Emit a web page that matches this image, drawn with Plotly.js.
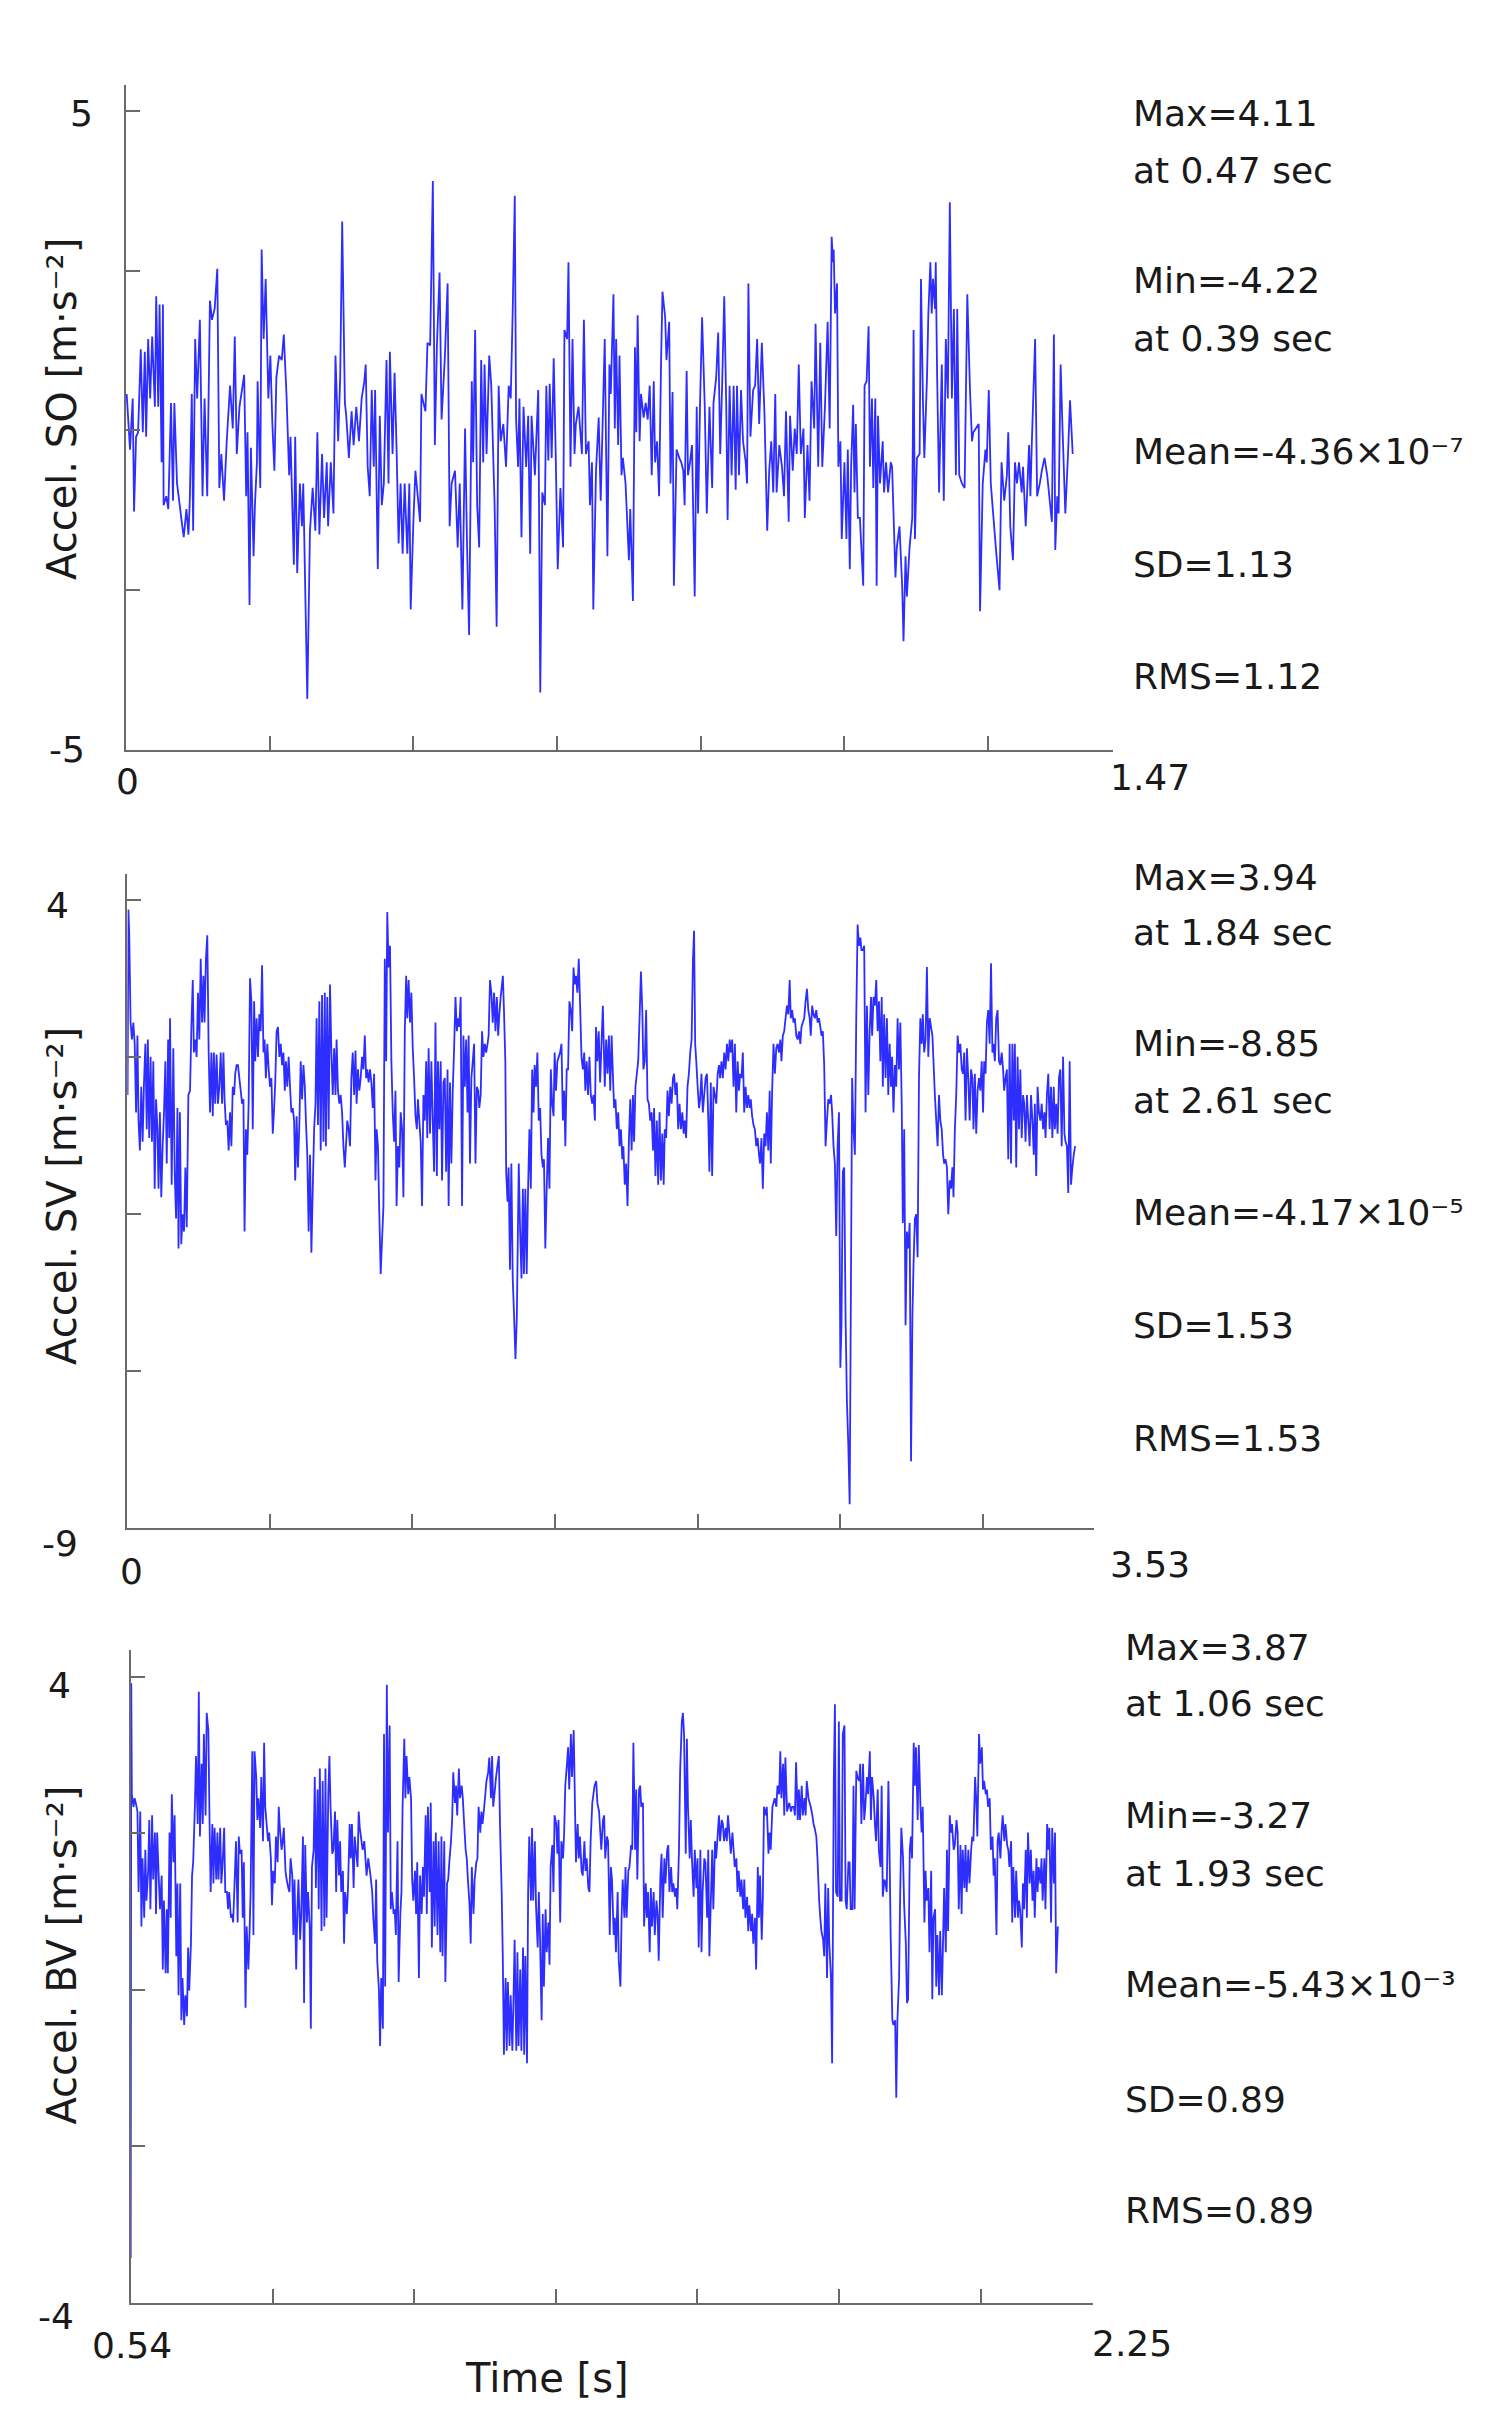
<!DOCTYPE html>
<html><head><meta charset="utf-8">
<script src="https://cdn.plot.ly/plotly-3.0.1.min.js"></script>
<style>html,body{margin:0;padding:0;background:#fff}#chart{width:1504px;height:2428px}</style>
</head><body><div id="chart"></div>
<script>
// ---------- Panel 1: Accel. SO (time in ms, acceleration in m/s^2) ----------
const soTime = [
1,6,10,12,15,18,22,25,28,30,
33,36,39,43,45,48,50,53,55,56,
60,63,67,70,72,76,80,83,86,90,
93,95,98,100,103,106,110,114,117,121,
125,128,132,136,139,142,146,150,155,159,
162,165,169,176,179,181,184,186,190,192,
195,196,200,202,205,208,212,215,218,221,
224,228,232,235,239,243,245,250,252,255,
259,262,264,270,274,278,282,285,288,292,
295,299,301,305,309,312,316,319,322,326,
328,332,336,339,343,347,351,355,357,360,
363,366,369,371,375,378,381,384,388,391,
393,397,400,403,406,409,412,415,419,422,
424,428,431,434,438,440,443,446,449,453,
457,460,463,467,470,475,479,482,485,490,
494,497,501,505,508,511,515,517,520,523,
526,529,532,534,537,541,544,549,552,555,
558,562,566,570,573,576,579,581,584,586,
589,592,596,599,602,604,609,614,617,620,
624,626,629,631,634,637,640,643,647,651,
653,657,659,662,665,668,670,674,679,682,
685,689,691,694,696,700,704,707,713,
717,720,722,726,728,730,733,735,738,740,
744,749,751,755,758,760,762,765,767,771,
774,777,780,783,786,788,791,794,797,799,
803,805,809,811,814,816,820,824,827,830,
832,835,837,840,843,847,850,852,855,858,
862,865,869,873,875,879,882,885,888,891,
894,896,899,902,905,908,910,913,916,919,
923,925,927,930,934,937,940,943,947,951,
955,958,961,964,967,969,973,977,980,983,
987,989,993,996,999,1002,1005,1009,1011,1015,
1018,1021,1025,1027,1031,1034,1037,1041,1045,1048,
1051,1053,1054,1056,1059,1061,1064,1066,1070,1073,
1075,1078,1080,1083,1085,1087,1090,1093,1098,1100,
1103,1106,1108,1111,1113,1116,1118,1120,1123,1127,
1129,1132,1135,1139,1141,1146,1148,1152,1156,1158,
1161,1163,1167,1171,1173,1175,1178,1182,1184,1187,
1189,1193,1195,1198,1200,1202,1205,1206,1208,1211,
1215,1218,1221,1224,1227,1230,1233,1236,1238,1241,
1245,1249,1253,1257,1260,1262,1270,1272,1276,1280,
1282,1285,1288,1292,1296,1301,1304,1308,1312,1314,
1317,1321,1324,1327,1330,1334,1336,1340,1345,1347,
1349,1354,1357,1361,1364,1368,1372,1377,1379,1382,
1384,1387,1389,1392,1395,1399,1403,1406,1410];
const soAccel = [
0.57,-0.30,0.50,-1.27,-0.10,-0.03,1.27,-0.03,1.23,-0.10,
1.43,0.50,1.47,0.37,2.10,0.37,1.97,-0.50,1.97,-1.17,
-1.03,-1.23,0.43,-1.10,0.43,-0.83,-1.17,-1.43,-1.67,-1.23,
-1.63,-1.10,0.57,-1.57,1.43,0.50,1.73,-1.03,0.50,-1.03,
2.03,1.73,1.90,2.53,-0.90,-0.37,-1.10,-0.17,0.70,0.03,
1.47,-0.37,0.37,0.87,-1.03,-0.03,-2.73,-0.27,-1.97,-1.17,
-0.50,0.77,-0.90,2.83,1.43,2.37,0.50,1.17,0.10,-0.63,
0.83,1.17,1.10,1.50,0.57,-0.70,-0.10,-2.10,-0.10,-2.23,
-0.83,-1.50,-0.83,-4.20,-1.57,-0.90,-1.57,-0.03,-1.63,-0.37,
-1.37,-0.50,-1.50,-0.50,-1.30,1.17,-0.17,0.83,3.27,0.43,
0.23,-0.43,0.30,-0.23,0.37,-0.17,0.50,0.77,1.03,-0.57,
-1.03,0.63,-0.57,0.63,-2.17,0.23,-1.17,-0.83,1.10,-0.83,
1.23,-0.37,0.90,-0.30,-1.77,-0.83,-1.93,-0.83,-1.93,-0.83,
-2.80,-1.43,-0.63,-0.97,-1.43,0.57,0.43,0.30,1.37,1.33,
3.90,-0.23,1.30,2.47,0.17,1.17,2.30,-1.50,-0.83,-0.63,
-1.83,-0.83,-2.80,0.03,-1.83,-3.20,0.77,-0.50,1.57,-1.17,
-1.83,1.10,-0.50,1.03,-0.37,1.17,0.70,-1.17,-3.07,0.70,
-0.17,0.10,-0.57,0.70,0.50,1.90,3.67,0.17,-0.57,0.50,
-1.67,0.37,-0.57,0.23,-1.93,0.23,-0.70,0.63,-4.10,-0.97,
-1.17,0.70,-0.47,0.73,-0.43,1.13,-0.37,-2.17,-0.90,-1.83,
1.57,1.43,2.63,-0.57,1.43,-0.37,0.10,0.37,-0.37,1.73,
-0.37,-0.17,-1.17,-0.50,-2.80,-0.63,0.20,-1.10,1.43,
-1.97,1.03,0.57,2.13,0.03,1.43,-0.23,1.17,-0.70,-0.43,
-0.83,-2.03,-1.23,-2.67,1.30,-0.03,1.80,-0.17,0.57,0.20,
0.43,0.17,0.70,-0.70,0.77,-0.50,-0.17,-1.03,1.13,2.17,
1.77,1.10,1.70,-0.83,0.60,-2.43,-0.30,-0.43,-0.50,-0.63,
-1.17,0.93,-0.70,-0.50,-0.23,-2.60,0.37,-1.30,0.43,1.77,
0.37,-1.30,0.37,-0.90,0.43,0.83,1.53,-0.37,0.77,2.10,
0.37,-1.40,0.70,-0.70,0.70,-0.93,0.70,-0.70,0.63,-0.17,
-0.50,-0.83,2.30,-0.10,0.63,0.70,1.43,0.10,1.37,0.23,
-1.57,-0.63,-0.17,-0.97,0.57,-0.97,-0.23,-0.57,-1.03,0.30,
-1.43,0.23,-0.63,0.03,-0.37,1.03,-0.37,0.03,-1.37,-0.23,
-1.10,0.77,0.03,1.67,-0.57,1.37,-0.57,0.37,1.70,0.03,
3.03,2.63,2.83,1.83,2.30,-0.57,-0.17,-1.70,-0.50,-1.70,
-0.30,-2.17,-0.57,0.40,-0.97,0.10,-1.37,-1.37,-2.43,0.70,
0.77,1.63,-0.57,0.50,-0.90,0.50,-2.43,0.23,-0.83,-0.17,
-0.97,-0.50,-0.97,-0.50,-0.57,-2.30,-1.83,-1.50,-2.43,-3.30,
-1.97,-2.60,-1.83,-1.37,1.57,-1.70,-0.43,-0.37,2.37,0.43,
-0.43,0.83,1.83,2.63,1.83,2.37,1.90,2.63,0.90,-0.97,
1.03,-1.10,1.43,0.50,3.57,0.50,1.90,-0.70,1.90,-0.70,
-0.83,-0.90,2.13,0.63,-0.17,-0.03,0.10,-2.83,-0.83,-0.30,
-0.50,0.63,-0.83,-1.37,-1.90,-2.50,-0.50,-1.10,-0.70,-0.03,
-1.50,-2.03,-0.50,-0.83,-0.50,-0.97,-0.57,-1.50,-0.23,-1.03,
-0.23,1.43,-1.03,-0.83,-0.63,-0.43,-0.70,-1.23,-1.43,1.50,
-1.87,-1.03,-1.30,1.03,-0.03,-1.30,-0.37,0.47,-0.37];

// ---------- Panel 2: Accel. SV ----------
const svTime = [
1,4,7,12,17,22,27,32,37,41,
46,51,56,61,66,71,75,80,85,90,
95,100,105,110,114,119,124,129,134,139,
144,149,153,156,162,168,173,178,183,187,
192,197,202,207,212,217,223,229,234,239,
243,248,253,258,263,268,273,278,282,287,
292,297,302,307,312,316,321,326,331,336,
341,346,351,355,360,365,370,375,380,385,
390,394,399,404,409,414,419,424,428,433,
438,443,448,453,458,463,467,472,477,482,
487,492,497,501,506,511,516,521,526,531,
536,540,545,550,555,560,565,570,575,579,
584,589,594,599,604,609,613,618,623,628,
633,638,643,648,652,657,662,667,672,677,
682,687,691,696,701,706,711,716,721,725,
730,735,740,745,750,755,760,764,769,774,
779,784,789,794,799,803,808,813,818,823,
828,833,837,842,847,852,857,862,867,872,
876,881,886,891,896,901,906,910,915,920,
925,930,935,940,945,949,954,959,964,969,
974,979,983,988,993,998,1003,1008,1013,1018,
1022,1027,1032,1037,1042,1047,1052,1057,1061,1066,
1071,1076,1081,1086,1091,1095,1100,1105,1110,1115,
1120,1125,1130,1134,1139,1144,1149,1154,1159,1164,
1169,1173,1178,1183,1188,1193,1198,1203,1208,1212,
1217,1222,1227,1232,1237,1242,1246,1251,1256,1261,
1266,1271,1276,1281,1285,1290,1295,1300,1305,1310,
1315,1319,1324,1329,1334,1339,1344,1349,1354,1358,
1363,1371,1375,1380,1383,1388,1392,1397,1402,1407,
1412,1417,1422,1429,1434,1439,1444,1448,1453,1458,
1463,1468,1473,1478,1483,1487,1492,1497,1502,1507,
1512,1517,1521,1526,1531,1536,1541,1546,1551,1556,
1560,1565,1570,1575,1580,1585,1590,1595,1599,1604,
1609,1614,1619,1624,1629,1633,1638,1643,1648,1653,
1658,1663,1668,1672,1677,1682,1687,1692,1697,1702,
1707,1711,1716,1721,1726,
1736,1743,1748,1753,1758,1763,1768,1772,1777,1782,
1787,1792,1797,1802,1807,1811,1816,1821,1826,1831,
1836,1841,1846,1850,1855,1860,1865,1870,1875,1880,
1884,1889,1894,1899,1904,1909,1914,1919,1923,1928,
1933,1938,1943,1948,1953,1958,1962,1967,1972,1977,
1982,1987,1992,1996,2001,2006,2011,2016,2021,2026,
2031,2035,2040,2045,2050,2055,2060,2065,2069,2073,
2077,2082,2087,2091,2096,2101,2106,2111,2116,2121,
2125,2130,2135,2140,2145,2150,2155,2160,2164,2169,
2174,2179,2184,2189,2194,2199,2203,2208,2213,2218,
2223,2228,2233,2237,2242,2247,2252,2257,2262,2267,
2272,2276,2281,2286,2291,2296,2301,2306,2310,2315,
2320,2325,2330,2335,2340,2345,2349,2354,2359,2364,
2369,2374,2379,2384,2388,2393,2398,2403,2408,2413,
2418,2422,2427,2432,2437,2442,2447,2452,2457,2461,
2466,2471,2476,2481,2486,2491,2495,2500,2505,2510,
2515,2520,2525,2530,2534,2539,2544,2549,2554,2559,
2564,2569,2573,2578,2583,2588,2593,2598,2603,2607,
2612,2617,2622,2627,2632,2637,2642,2646,2651,2656,
2661,2666,2671,2676,2680,2685,2690,2695,2700,2705,
2710,2715,2719,2724,2729,2734,2739,2744,2749,2754,
2758,2763,2768,2773,2778,2783,2788,2792,2797,2802,
2807,2812,2817,2822,2827,2831,2836,2841,2846,2851,
2856,2861,2866,2870,2875,2880,2885,2890,2895,2900,
2904,2909,2914,2919,2924,2929,2934,2939,2943,2948,
2953,2958,2963,2968,2973,2978,2982,2987,2992,2997,
3002,3007,3012,3016,3021,3026,3031,3036,3041,3046,
3051,3055,3060,3065,3070,3075,3080,3085,3089,3094,
3099,3104,3109,3114,3119,3124,3128,3133,3138,3143,
3148,3153,3158,3162,3167,3172,3177,3182,3187,3192,
3197,3201,3206,3211,3216,3221,3226,3231,3236,3240,
3245,3250,3255,3260,3265,3270,3274,3279,3284,3289,
3294,3299,3304,3309,3313,3318,3323,3328,3333,3338,
3343,3348,3352,3357,3362,3367,3372,3377,3382,3386,
3391,3396,3401,3406,3411,3416,3421,3425,3430,3435,
3440,3445,3450,3455,3460];
const svAccel = [
-0.04,3.80,3.31,1.46,1.11,1.46,1.02,-0.40,1.19,-0.57,
-1.19,0.13,-1.01,0.22,1.02,-0.75,1.11,-0.93,0.75,-1.01,
0.66,-1.98,-0.13,-0.75,-1.98,-0.40,-2.16,-1.10,-0.40,0.66,
-1.46,1.11,-0.93,1.55,-1.90,0.93,-1.63,-2.60,-0.31,-3.22,
-0.40,-3.13,-2.51,-2.87,-1.54,-2.78,-0.04,0.05,1.37,2.34,
0.84,1.11,0.75,2.08,1.11,2.78,1.46,2.43,1.46,2.78,
3.27,0.84,-0.40,0.84,-0.48,0.84,-0.22,0.80,-0.22,0.13,
0.84,-0.22,0.84,-0.13,-0.66,-0.57,-1.19,-0.40,-1.10,0.13,
-0.04,0.40,0.58,0.58,0.31,0.05,-0.22,-0.13,-2.87,-0.75,
-1.28,-0.22,2.38,1.90,-0.75,1.90,0.66,1.55,0.75,1.63,
1.28,2.65,0.84,1.11,0.31,1.02,0.49,0.13,0.31,-0.84,
-0.31,0.22,1.28,1.37,0.75,1.02,0.58,0.84,0.05,0.66,
0.13,0.75,0.13,-0.40,-0.31,-0.57,-1.81,-0.48,-1.54,-0.66,
0.66,-0.13,0.58,0.13,-0.57,-1.28,-2.87,-1.28,-3.31,-1.98,
-0.75,-0.22,1.55,-0.66,1.90,-1.19,2.03,-1.01,2.08,-1.10,
1.99,-0.75,2.25,0.84,-0.04,0.93,-0.04,1.11,0.05,-0.22,
-0.04,-0.40,-1.10,-1.54,-1.01,-0.57,-0.75,-1.10,0.31,0.84,
-0.04,0.88,-0.22,0.49,0.05,0.31,0.75,0.49,1.19,0.31,
0.49,0.22,0.49,0.22,-0.31,0.40,-1.81,-0.75,-1.10,-2.51,
-3.75,-3.04,-2.34,2.78,0.66,3.75,2.60,3.05,0.66,-0.40,
-1.01,0.05,-2.34,-1.10,-1.54,-0.40,-0.75,-2.16,1.28,2.43,
1.55,2.34,1.46,2.08,0.93,0.31,-0.48,-0.75,-0.13,-0.57,
-1.01,-2.34,-0.04,-0.57,0.66,-0.93,0.93,-0.84,0.66,-0.57,
-1.63,1.46,-1.72,0.66,-0.75,0.66,-1.81,0.22,0.31,-1.63,
0.49,-2.34,0.22,-1.46,0.05,0.93,1.99,1.28,1.55,1.37,
1.99,-2.34,1.19,0.13,1.11,-0.40,1.19,-1.46,0.31,0.66,
1.02,-1.46,0.13,0.05,-0.31,-0.04,1.28,0.75,1.02,0.84,
1.02,1.19,2.34,2.08,1.46,2.08,1.28,1.99,1.19,1.63,
1.99,2.43,1.72,0.66,-1.63,-2.25,-1.54,-3.66,-1.46,-3.84,
-4.63,-5.51,-4.63,-1.46,-2.87,-3.84,-1.98,-3.75,-1.98,-3.75,
-1.98,-0.75,-1.98,0.49,-0.40,0.58,0.13,0.84,-0.57,-0.31,
-1.28,-1.54,-1.37,-3.22,-1.98,-0.93,-1.98,0.49,-0.22,-0.48,
0.84,0.05,0.66,0.75,0.84,1.02,-0.57,0.05,-1.10,0.49,
0.49,1.90,1.72,1.28,2.60,2.25,2.43,2.08,2.78,1.81,
0.75,0.49,0.84,0.05,0.66,-0.04,0.75,-0.04,-0.22,-0.04,
-0.57,1.37,0.66,1.28,0.22,
1.81,0.13,1.11,0.40,1.19,0.05,1.19,0.49,-0.31,-0.13,
-0.75,-0.40,-1.10,-0.75,-1.37,-1.10,-1.90,-1.46,-2.34,-1.01,
-0.13,-1.19,-0.04,-1.01,0.13,0.40,0.66,1.55,2.52,1.72,
0.49,0.66,1.72,-0.13,-0.22,-0.57,-0.40,-1.19,-0.31,-1.72,
-0.57,-1.90,-0.40,-1.81,-0.84,-1.90,-0.75,-0.93,0.05,-0.48,
0.13,-0.22,0.31,0.40,-0.04,0.22,-0.75,-0.22,-0.75,-0.40,
-0.84,-0.57,-0.93,0.13,0.40,0.84,1.11,2.78,3.36,1.02,
0.66,0.13,-0.31,-0.13,0.40,-0.40,-0.04,0.31,0.40,-0.57,
-1.63,0.22,-1.72,0.13,-0.04,-0.22,0.40,0.58,0.31,0.66,
0.31,0.84,0.49,1.02,0.66,1.11,0.84,1.11,0.13,1.02,
-0.40,0.66,0.05,0.40,0.31,0.84,-0.40,0.13,-0.31,-0.04,
-0.31,-0.13,-0.48,-0.66,-0.75,-1.10,-0.93,-1.28,-1.46,-0.93,
-1.98,-0.84,-1.10,-0.40,-1.19,0.05,-1.46,0.05,1.02,0.40,
0.93,1.02,0.84,1.11,0.66,1.19,1.28,1.55,1.81,1.63,
2.34,1.55,1.72,1.46,1.55,1.19,1.11,1.28,1.02,1.37,
1.46,1.55,1.90,2.16,1.72,1.55,1.19,1.81,1.63,1.55,
1.72,1.46,1.55,1.37,1.19,1.28,0.58,-1.10,-0.57,-0.13,
-0.22,-0.04,-0.40,-1.10,-1.46,-2.96,-1.10,-0.40,-5.69,-4.81,
-1.63,-1.54,-4.63,-6.40,-7.28,-8.52,-3.57,0.31,-0.75,-1.28,
1.55,3.49,3.05,3.22,2.96,2.96,3.05,-0.40,1.81,-0.04,
1.28,1.99,1.19,1.99,1.81,2.34,1.28,1.90,0.66,1.99,
0.13,1.63,0.31,1.55,-0.04,1.02,0.13,0.75,-0.40,0.58,
0.13,1.55,0.49,1.46,-0.22,-2.69,-0.75,-4.81,-2.87,-3.22,
-2.69,-7.63,-4.63,-3.57,-2.60,-2.51,-3.40,0.31,1.55,1.02,
1.63,0.84,1.11,2.61,0.75,1.55,1.37,1.19,0.66,-0.04,
-0.57,-1.10,-0.04,-0.57,-0.75,-1.28,-1.46,-1.37,-1.54,-2.51,
-1.81,-1.98,-1.54,-2.16,-0.75,-0.04,1.19,0.84,1.02,0.49,
0.40,0.84,-0.57,0.93,0.31,-0.57,0.49,0.31,-0.75,0.40,
-0.84,0.05,0.31,0.05,0.66,-0.40,0.66,0.40,1.46,1.72,
1.02,2.69,0.84,1.02,0.66,1.55,1.72,0.66,0.58,0.84,
0.49,0.05,0.31,0.49,-1.37,1.02,-1.46,1.02,-0.57,1.02,
-1.54,0.75,-0.75,0.49,-0.93,-0.04,-0.22,-1.01,-0.04,-0.57,
-1.10,-0.04,-0.57,-1.28,-0.22,-1.72,0.13,-0.40,-0.57,-0.22,
-0.75,-0.40,-0.93,-0.04,0.40,-0.75,0.13,-0.93,0.13,-0.75,
-0.22,-0.84,0.31,0.49,-1.10,0.75,-0.84,-1.01,-1.10,-2.07,
0.66,-1.90,-1.54,-1.28,-1.10];

// ---------- Panel 3: Accel. BV ----------
const bvTime = [
540,541,
542,545,547,549,552,554,557,559,561,
564,566,568,571,573,575,578,580,583,585,
587,590,592,595,597,599,602,604,606,609,
611,613,616,618,621,623,625,628,630,632,
635,637,640,642,644,647,649,651,654,656,
659,661,663,666,668,670,673,675,678,680,
682,685,687,689,692,694,696,699,701,703,
706,708,711,713,715,718,720,722,725,727,
730,732,734,737,739,741,744,746,749,751,
753,756,758,760,763,765,767,770,772,775,
777,779,782,784,786,789,791,793,796,798,
801,803,805,808,810,812,815,817,820,822,
824,827,829,831,834,836,838,841,843,846,
848,850,853,855,858,860,862,865,867,869,
872,874,876,879,881,884,886,888,891,893,
895,898,900,903,905,907,910,912,914,917,
919,921,924,926,929,931,933,936,938,940,
943,945,947,950,952,955,957,959,962,964,
966,969,971,974,976,978,981,983,985,988,
990,992,995,997,1000,1002,1004,1007,1009,1011,
1014,1016,1019,1021,1023,1026,1028,1030,1033,1035,
1038,1040,1042,1045,1047,1049,1052,1054,1057,1059,
1061,1064,1066,1068,1071,1073,1075,1078,1080,1082,
1085,1087,1090,1092,1094,1097,1099,1102,1104,1106,
1109,1111,1113,1116,1118,1120,1123,1125,1128,1130,
1132,1135,1137,1139,1142,1144,1146,1149,1151,1154,
1156,1158,1161,1163,1165,1168,1170,1172,1175,1177,
1180,1182,1184,1187,1189,1191,1194,1196,1199,1201,
1203,1206,1208,1210,1213,1215,1218,1220,1222,1225,
1227,1229,1232,1234,1237,1239,1241,1244,1246,1248,
1251,1253,1255,1258,1260,1263,1265,1267,1270,1272,
1274,1277,1279,1282,1284,1286,1289,1291,1293,1296,
1298,1300,1303,1305,1308,1310,1312,1315,1317,1319,
1322,1324,1327,1329,1331,1334,1336,1338,1341,1343,
1346,1348,1350,1353,1355,1357,1360,1362,1364,1367,
1369,1372,
1376,1379,1381,1383,1386,1388,1391,1393,1395,
1398,1400,1402,1405,1407,1410,1412,1414,1417,1419,
1421,1424,1426,1429,1431,1433,1436,1438,1440,1443,
1445,1447,1450,1452,1455,1457,1459,1462,1464,1466,
1469,1471,1474,1476,1478,1481,1483,1485,1488,1490,
1493,1495,1497,1500,1502,1504,1507,1509,1511,1514,
1516,1519,1521,1523,1526,1528,1530,1533,1535,1537,
1540,1542,1545,1547,1549,1552,1554,1556,1559,1561,
1564,1566,1568,1571,1573,1575,1578,1580,1583,1585,
1587,1590,1592,1594,1597,1599,1601,1604,1606,1609,
1611,1613,1616,1618,1620,1623,1625,1628,1630,1632,
1635,1637,1639,1642,1644,1646,1649,1651,1654,1656,
1658,1661,1663,1665,1668,1670,1673,1675,1677,1680,
1682,1684,1687,1689,1692,1694,1696,1699,1701,1703,
1706,1708,1710,1713,1715,1718,1720,1722,1725,1727,
1729,1732,1734,1737,1739,1741,1744,1746,1748,1751,
1753,1755,1758,1760,1763,1765,1767,1770,1772,1774,
1777,1779,1781,1784,1786,1789,1791,1793,1796,1798,
1800,1803,1805,1808,1810,1812,1815,1817,1819,1822,
1824,1826,1829,1831,1834,1836,1838,1841,1843,1845,
1848,1850,1853,1855,1857,1860,1862,1864,1867,1869,
1872,1874,1876,1879,1881,1883,1886,1888,1890,1893,
1895,1898,1900,1902,1905,1907,1909,1912,1914,1917,
1919,1921,1924,1926,1928,1931,1933,1935,1938,1940,
1943,1945,1947,1950,1952,1954,1957,1959,1962,1964,
1966,1969,1971,1973,1976,1978,1981,1983,1985,1988,
1990,1992,1995,1997,1999,2002,2004,2007,2009,2011,
2014,2016,2018,2021,2023,2025,2028,2030,2033,2035,
2037,2040,2042,2044,2047,2049,2052,2054,2056,2059,
2061,2063,2066,2068,2071,2073,2075,2078,2080,2082,
2085,2087,2089,2092,2094,2097,2099,2101,2104,2106,
2108,2111,2113,2116,2118,2120,2123,2125,2127,2130,
2132,2134,2137,2139,2142,2144,2146,2149,2151,2153,
2156,2158,2160,2163,2165,2168,2170,2172,2175,2177,
2180,2182,2184,2187];
const bvAccel = [
-3.43,3.92,
2.50,2.34,2.45,2.39,2.28,1.25,2.28,0.81,1.68,
0.92,1.79,1.14,1.52,2.17,1.03,2.23,1.41,2.01,0.97,
2.01,1.41,1.03,1.46,0.26,1.14,0.21,1.03,0.21,2.01,
0.92,2.50,1.63,2.23,0.43,1.36,-0.07,1.36,-0.39,0.15,
-0.45,-0.07,-0.34,0.54,-0.01,0.59,1.46,1.63,2.34,2.99,
2.12,3.81,1.96,2.89,2.12,3.27,2.23,3.54,3.32,2.17,
1.25,2.12,1.36,2.07,1.41,2.01,1.41,2.07,1.36,1.57,
2.07,1.25,1.25,1.03,1.25,0.92,0.97,0.86,1.46,1.90,
0.86,1.96,1.74,1.79,0.92,1.63,-0.23,0.81,0.26,0.70,
1.25,3.05,0.70,3.05,2.72,2.17,2.45,2.07,2.72,1.90,
3.16,2.34,2.07,1.90,2.01,1.68,1.08,1.52,1.36,1.96,
1.63,2.34,2.07,1.79,1.90,2.07,1.52,1.41,1.30,1.25,
1.68,1.46,0.70,1.41,0.26,1.03,1.41,0.64,0.97,1.96,
-0.17,1.85,0.86,1.25,0.81,-0.50,1.57,1.79,2.72,1.30,
2.56,1.03,2.83,0.75,2.67,0.81,2.83,0.92,2.50,2.99,
2.34,1.74,1.79,2.28,1.25,2.17,1.46,1.90,1.25,1.52,
0.59,1.25,0.97,1.30,2.12,1.68,2.12,1.30,1.96,1.79,
1.57,2.28,2.07,1.90,1.79,1.90,1.68,1.46,1.68,1.57,
1.46,1.25,0.92,0.59,1.41,0.37,-0.01,-0.72,0.15,-0.50,
3.27,0.04,3.90,2.01,3.38,1.03,1.25,0.97,1.03,0.70,
1.90,0.10,0.97,1.25,2.34,3.21,2.45,2.99,2.50,2.72,
2.45,1.41,1.14,1.52,0.97,1.63,0.15,1.46,0.97,1.57,
1.19,2.23,0.97,2.34,1.25,2.39,0.54,1.90,0.81,2.01,
0.70,1.90,0.48,1.96,0.43,1.90,0.10,1.36,1.41,1.63,
1.90,2.17,2.78,2.39,2.61,2.23,2.83,2.45,2.61,2.45,
2.17,1.79,1.68,1.41,1.08,0.59,1.57,0.97,1.41,1.63,
1.68,2.34,2.01,2.28,2.12,2.34,2.50,2.67,2.78,2.97,
2.45,2.99,2.34,2.56,2.72,2.83,2.99,2.12,1.25,0.43,
-0.83,0.15,-0.78,0.10,-0.72,-0.07,-0.78,-0.12,0.64,-0.78,
0.48,-0.72,0.26,-0.78,0.54,-0.83,0.43,-0.94,1.25,1.96,
1.14,2.07,1.14,1.90,1.08,0.54,1.25,0.70,-0.39,0.97,
0.04,1.03,0.48,0.86,0.32,1.57,1.85,1.25,2.23,2.12,
1.74,2.17,0.86,1.90,1.68,2.01,2.61,2.89,3.10,2.56,
3.27,2.72,3.32,2.45,1.63,2.12,1.68,1.96,1.52,1.46,
1.90,1.52,1.68,1.30,1.25,1.90,2.39,2.50,2.61,2.67,
2.39,2.28,
1.79,2.17,2.23,1.68,1.96,1.90,0.70,1.57,1.41,
0.70,0.92,0.48,1.25,0.37,0.04,0.92,1.41,0.92,1.57,
0.92,1.52,1.57,1.85,1.79,3.16,1.79,2.56,1.41,2.56,
2.61,2.34,2.39,0.81,1.36,0.92,1.25,0.48,1.30,0.81,
1.25,0.70,1.14,0.97,0.37,1.46,1.74,0.92,1.68,1.36,
1.79,1.85,1.25,1.57,1.25,1.36,1.19,1.30,1.03,1.79,
2.78,3.43,3.54,3.27,1.74,3.21,2.34,1.68,2.17,1.68,
1.19,1.79,1.30,1.68,0.54,1.79,0.48,1.25,1.68,1.63,
0.92,1.79,0.43,1.25,1.79,1.03,1.90,1.68,2.01,2.23,
1.90,2.17,2.12,1.90,2.07,1.90,2.23,1.96,1.74,2.01,
1.79,1.57,1.68,1.25,1.52,1.19,1.41,1.03,1.41,0.92,
1.19,0.75,1.08,0.75,0.97,0.59,0.92,0.26,1.57,0.92,
1.46,0.64,1.19,2.34,2.23,2.34,1.74,2.01,1.79,2.34,
2.39,2.45,2.34,2.61,2.50,3.05,2.45,2.89,2.23,2.97,
2.28,2.34,2.39,2.28,2.34,2.34,2.23,2.91,2.17,2.56,
2.17,2.61,2.23,2.45,2.23,2.67,2.45,2.39,2.34,2.23,
2.12,2.07,1.96,1.68,1.14,0.92,0.75,0.64,0.43,1.36,
0.15,1.30,0.59,0.15,-0.94,2.67,3.65,1.25,1.19,3.43,
1.14,1.14,3.27,3.38,1.14,1.03,1.63,1.63,1.03,1.03,
2.61,1.03,2.80,2.72,2.67,2.89,2.12,2.89,2.17,2.34,
2.72,2.50,3.05,2.17,2.72,2.45,2.12,1.90,2.56,1.79,
1.57,2.61,1.19,1.41,1.36,1.25,2.67,1.79,0.70,-0.39,
-0.45,-0.39,-1.38,-0.39,0.15,1.25,2.07,1.68,1.08,0.59,
-0.17,-0.12,1.79,1.96,1.68,3.16,2.61,3.10,2.17,3.13,
2.34,2.01,2.34,0.86,1.52,1.14,1.30,0.48,1.52,-0.12,
0.92,1.03,0.04,0.70,-0.07,0.75,-0.07,0.59,1.30,0.48,
1.79,0.75,2.23,2.01,2.12,1.79,1.85,2.17,2.01,1.03,
1.85,0.97,1.79,1.30,1.85,1.25,1.79,1.36,1.79,1.96,
1.90,2.72,2.45,1.96,3.27,2.89,3.10,2.56,2.67,2.50,
2.56,2.34,2.45,1.79,1.96,1.46,1.68,0.70,1.90,2.01,
1.68,2.01,2.23,1.90,2.12,1.85,1.79,1.57,1.90,0.86,
1.57,0.92,1.52,0.92,1.14,1.03,0.54,1.36,1.03,1.79,
0.92,2.01,1.36,1.79,1.14,1.52,0.92,1.68,1.25,1.57,
1.36,1.68,1.14,1.68,1.03,2.12,1.79,2.07,0.86,2.07,
1.36,2.01,0.21,0.81];

// ---------- axes ticks and labels ----------
const soXTicks = [0,214,428,642,856,1070,1284];
const svXTicks = [0,521,1041,1562,2082,2603,3123];
const bvXTicks = [540,792,1043,1295,1546,1798,2050];
const soYTicks = [-5,-2.5,0,2.5,5];
const svYTicks = [-9,-5.75,-2.5,0.75,4];
const bvYTicks = [-4,-2,0,2,4];
const soRange = [0,1470], svRange = [0,3530], bvRange = [540,2250];
const soEndLabels = ['0','1.47'], svEndLabels = ['0','3.53'], bvEndLabels = ['0.54','2.25'];
const soYLabels = ['5','-5'], svYLabels = ['4','-9'], bvYLabels = ['4','-4'];
const soStats = ['Max=4.11','at 0.47 sec','Min=-4.22','at 0.39 sec','Mean=-4.36×10⁻⁷','SD=1.13','RMS=1.12'];
const svStats = ['Max=3.94','at 1.84 sec','Min=-8.85','at 2.61 sec','Mean=-4.17×10⁻⁵','SD=1.53','RMS=1.53'];
const bvStats = ['Max=3.87','at 1.06 sec','Min=-3.27','at 1.93 sec','Mean=-5.43×10⁻³','SD=0.89','RMS=0.89'];
const yTitles = ['Accel. SO [m·s⁻²]','Accel. SV [m·s⁻²]','Accel. BV [m·s⁻²]'];
const xTitle = 'Time [s]';

// ---------- layout geometry (pixels) ----------
const W = 1504, H = 2428;
const PX = x => x / W, PY = y => 1 - y / H;
const AX = '#6a6a6a', TXT = '#1a1a1a', LINE = 'rgb(45,45,255)';
const FONT = 'DejaVu Sans';

function xa(l, r, range, ticks, anchor) {
  return {domain:[PX(l), PX(r)], range, tickmode:'array', tickvals:ticks, showticklabels:false,
    ticks:'inside', ticklen:14, tickwidth:2, tickcolor:AX, showline:true, linecolor:AX, linewidth:2,
    showgrid:false, zeroline:false, anchor, fixedrange:true};
}
function ya(top, bottom, range, ticks, anchor) {
  return {domain:[PY(bottom), PY(top)], range, tickmode:'array', tickvals:ticks, showticklabels:false,
    ticks:'inside', ticklen:14, tickwidth:2, tickcolor:AX, showline:true, linecolor:AX, linewidth:2,
    showgrid:false, zeroline:false, anchor, fixedrange:true};
}

const lineStyle = {color:LINE, width:1.8, simplify:false};
const traces = [
  {x:soTime, y:soAccel, xaxis:'x', yaxis:'y', type:'scatter', mode:'lines', line:lineStyle, hoverinfo:'skip'},
  {x:svTime, y:svAccel, xaxis:'x2', yaxis:'y2', type:'scatter', mode:'lines', line:lineStyle, hoverinfo:'skip'},
  {x:bvTime, y:bvAccel, xaxis:'x3', yaxis:'y3', type:'scatter', mode:'lines', line:lineStyle, hoverinfo:'skip'}
];

const ann = [];
function txt(t, x, y, size, xanchor, extra) {
  ann.push(Object.assign({text:t, xref:'paper', yref:'paper', x:PX(x), y:PY(y), xanchor:xanchor||'center', yanchor:'middle',
    showarrow:false, font:{family:FONT, size:size, color:TXT}}, extra||{}));
}
// panel 1
txt(soYLabels[0], 81.6, 113.8, 36); txt(soYLabels[1], 67, 750, 36);
txt(soEndLabels[0], 127.6, 782, 36); txt(soEndLabels[1], 1150, 777, 36);
txt(yTitles[0], 62, 409, 40, 'center', {textangle:-90});
[113.8,170.8,281,338.5,451,564,676].forEach((y,i)=>txt(soStats[i], 1130.5, y, 36, 'left'));
// panel 2
txt(svYLabels[0], 57.6, 905, 36); txt(svYLabels[1], 59.5, 1543.6, 36);
txt(svEndLabels[0], 131.5, 1571.8, 36); txt(svEndLabels[1], 1150, 1564, 36);
txt(yTitles[1], 62, 1196, 40, 'center', {textangle:-90});
[877,932,1043.6,1100,1212.8,1325.6,1438.5].forEach((y,i)=>txt(svStats[i], 1130.5, y, 36, 'left'));
// panel 3
txt(bvYLabels[0], 59.5, 1685, 36); txt(bvYLabels[1], 55.7, 2316.6, 36);
txt(bvEndLabels[0], 131.5, 2345.8, 36); txt(bvEndLabels[1], 1132.4, 2343, 36);
txt(yTitles[2], 62, 1955.6, 40, 'center', {textangle:-90});
txt(xTitle, 547, 2377.6, 40);
[1647.8,1703.5,1815,1873.4,1984.8,2099,2210.4].forEach((y,i)=>txt(bvStats[i], 1122.8, y, 36, 'left'));

const layout = {
  width:W, height:H, margin:{l:0,r:0,t:0,b:0}, showlegend:false,
  paper_bgcolor:'#fff', plot_bgcolor:'#fff',
  xaxis: xa(126, 1113, soRange, soXTicks, 'y'),
  yaxis: ya(84.6, 750, [-5, 5.41], soYTicks, 'x'),
  xaxis2: xa(127.3, 1094.3, svRange, svXTicks, 'y2'),
  yaxis2: ya(874.4, 1527.5, [-9, 4.53], svYTicks, 'x2'),
  xaxis3: xa(130.7, 1093.3, bvRange, bvXTicks, 'y3'),
  yaxis3: ya(1650.4, 2302.5, [-4, 4.34], bvYTicks, 'x3'),
  annotations: ann
};
Plotly.newPlot('chart', traces, layout, {staticPlot:true, displayModeBar:false});
</script>
</body></html>
